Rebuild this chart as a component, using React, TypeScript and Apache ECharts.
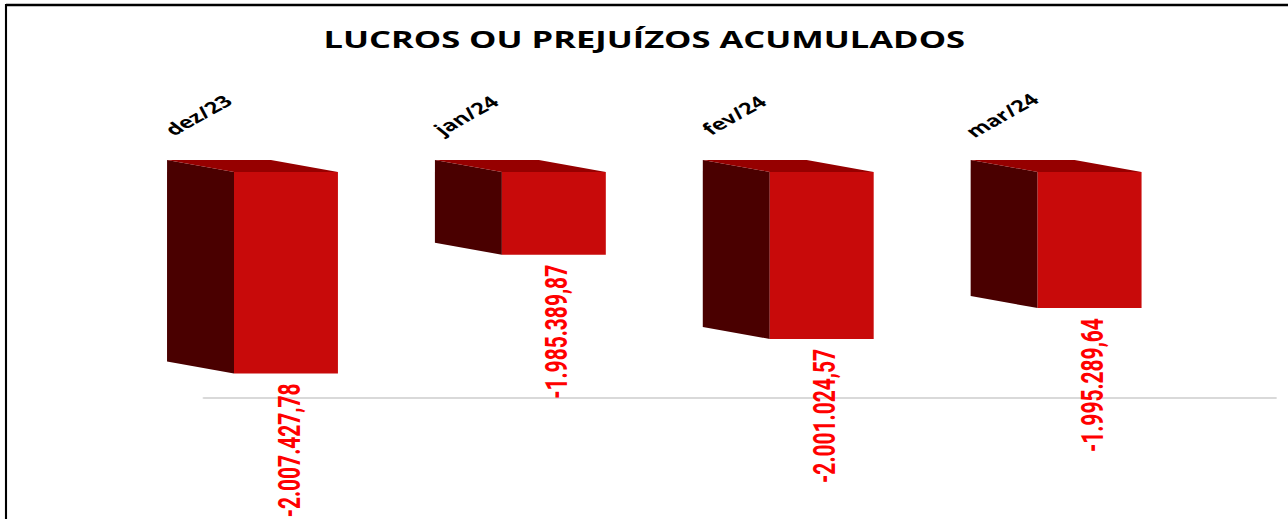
import React, { useEffect, useRef } from "react";
import * as echarts from "echarts";

const TITLE = "LUCROS OU PREJUÍZOS ACUMULADOS";
const CATEGORIES = ["dez/23", "jan/24", "fev/24", "mar/24"];
const VALUES = [-2007427.78, -1985389.87, -2001024.57, -1995289.64];
const AXIS_MIN = -2012000;
const AXIS_MAX = -1970000;

const K = 1.5; // horizontal stretch of the whole picture
const PAGE_W = 1288;
const PAGE_H = 519;
const W = PAGE_W / K;

const FRONT = "#c80a0a";
const SIDE = "#4a0000";
const TOPC = "#960000";

function fmt(v: number): string {
  const neg = v < 0;
  const [i, d] = Math.abs(v).toFixed(2).split(".");
  return (neg ? "-" : "") + i.replace(/\B(?=(\d{3})+(?!\d))/g, ".") + "," + d;
}

export default function App() {
  const ref = useRef<HTMLDivElement>(null);
  useEffect(() => {
    if (!ref.current) return;
    const chart = echarts.init(ref.current, undefined, { renderer: "svg" });
    const data = VALUES.map((v, i) => [i, v]);
    chart.setOption({
      animation: false,
      backgroundColor: "#ffffff",
      title: {
        text: TITLE,
        left: "center",
        top: 23,
        textStyle: {
          fontFamily: "'Open Sans', sans-serif",
          fontWeight: "bold",
          fontSize: 23,
          color: "#000000",
        },
      },
      graphic: [
        { type: "line", shape: { x1: 4, y1: 5, x2: W + 5, y2: 5 }, style: { stroke: "#000", lineWidth: 2.5 } },
        { type: "line", shape: { x1: 4, y1: 4, x2: 4, y2: PAGE_H + 5 }, style: { stroke: "#000", lineWidth: 1.4 } },
      ],
      grid: { left: 204 / K, right: 13 / K, top: 172, bottom: PAGE_H - 398 },
      xAxis: {
        type: "category",
        data: CATEGORIES,
        axisLine: { show: true, lineStyle: { color: "#d9d9d9", width: 2 } },
        axisTick: { show: false },
        axisLabel: { show: false },
        splitLine: { show: false },
      },
      yAxis: {
        type: "value",
        min: AXIS_MIN,
        max: AXIS_MAX,
        show: false,
        splitLine: { show: false },
      },
      series: [
        {
          type: "custom",
          clip: false,
          data,
          encode: { x: 0, y: 1 },
          renderItem: (params: any, api: any) => {
            const i = api.value(0);
            const v = api.value(1);
            const p = api.coord([i, v]);
            const c = p[0];
            const yv = p[1];
            const yTop = api.coord([i, AXIS_MAX])[1];
            const band = api.size([1, 0])[0];
            const fw = band * 0.388;
            const dx = band * 0.25;
            const dy = 12;
            const fl = c - fw;
            const bl = fl - dx;
            return {
              type: "group",
              children: [
                {
                  type: "polygon",
                  shape: { points: [[bl, yTop - dy], [fl, yTop], [fl, yv], [bl, yv - dy]] },
                  style: { fill: SIDE },
                },
                {
                  type: "polygon",
                  shape: { points: [[bl, yTop - dy], [bl + fw, yTop - dy], [c, yTop], [fl, yTop]] },
                  style: { fill: TOPC },
                },
                {
                  type: "rect",
                  shape: { x: fl, y: yTop, width: fw, height: yv - yTop },
                  style: { fill: FRONT },
                },
                {
                  type: "text",
                  x: c - band * 0.523,
                  y: 115,
                  rotation: (40 * Math.PI) / 180,
                  style: {
                    text: CATEGORIES[i],
                    fill: "#000",
                    fontFamily: "'Open Sans', sans-serif",
                    fontWeight: "bold",
                    fontSize: 16,
                    align: "center",
                    verticalAlign: "middle",
                  },
                },
                {
                  type: "text",
                  x: fl + fw / 2 + 2,
                  y: yv + 10,
                  rotation: Math.PI / 2,
                  style: {
                    text: fmt(v),
                    fill: "#ff0000",
                    fontFamily: "Roboto, sans-serif",
                    fontWeight: "bold",
                    fontSize: 21,
                    align: "right",
                    verticalAlign: "middle",
                  },
                },
              ],
            };
          },
        },
      ],
    });
    return () => chart.dispose();
  }, []);
  return (
    <div
      style={{
        position: "absolute",
        left: 0,
        top: 0,
        width: PAGE_W,
        height: PAGE_H,
        overflow: "hidden",
        background: "#fff",
      }}
    >
      <div
        ref={ref}
        style={{ width: W, height: PAGE_H, transform: `scaleX(${K})`, transformOrigin: "0 0" }}
      />
    </div>
  );
}
